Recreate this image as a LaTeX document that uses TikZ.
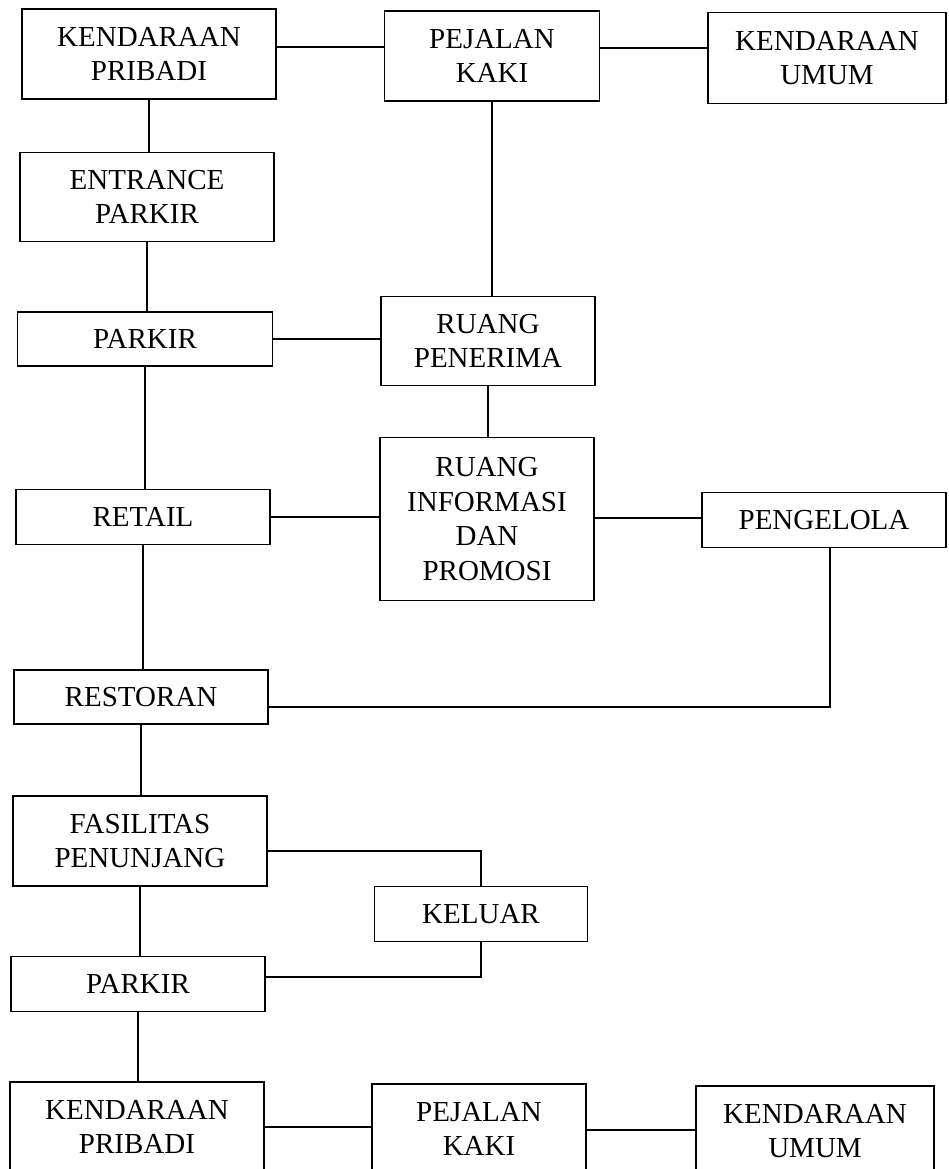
\documentclass[tikz,border=0pt]{standalone}
\usepackage{fontspec}
\setmainfont{Liberation Serif}
\begin{document}
\begin{tikzpicture}[x=1pt,y=-1pt,
  box/.style={draw,line width=1.6pt,align=center,inner sep=0pt,
    font=\fontsize{29}{34.5}\selectfont},
  conn/.style={line width=1.2pt}]
\useasboundingbox (0,0) rectangle (948,1169);
\clip (0,0) rectangle (948,1169);
\fill[white] (0,0) rectangle (948,1169);
\node[box,minimum width=254pt,minimum height=90pt] (kp1) at (149,54) {KENDARAAN\\PRIBADI};
\node[box,minimum width=215pt,minimum height=90pt] (pk1) at (492,56) {PEJALAN\\KAKI};
\node[box,minimum width=238pt,minimum height=91pt] (ku1) at (827,58) {KENDARAAN\\UMUM};
\node[box,minimum width=254pt,minimum height=89pt] (ep) at (147,197) {ENTRANCE\\PARKIR};
\node[box,minimum width=255pt,minimum height=54pt] (park1) at (145,339) {PARKIR};
\node[box,minimum width=214pt,minimum height=89pt] (rp) at (488,341) {RUANG\\PENERIMA};
\node[box,minimum width=214pt,minimum height=163pt] (rip) at (487,519) {RUANG\\INFORMASI\\DAN\\PROMOSI};
\node[box,minimum width=254pt,minimum height=55pt] (retail) at (143,517) {RETAIL};
\node[box,minimum width=244pt,minimum height=55pt] (peng) at (824,520) {PENGELOLA};
\node[box,minimum width=254pt,minimum height=54pt] (rest) at (141,697) {RESTORAN};
\node[box,minimum width=254pt,minimum height=90pt] (fp) at (140,841) {FASILITAS\\PENUNJANG};
\node[box,minimum width=213pt,minimum height=55pt] (kel) at (481,914) {KELUAR};
\node[box,minimum width=254pt,minimum height=55pt] (park2) at (138,984) {PARKIR};
\node[box,minimum width=254pt,minimum height=90pt] (kp2) at (137,1127) {KENDARAAN\\PRIBADI};
\node[box,minimum width=214pt,minimum height=90pt] (pk2) at (479,1129) {PEJALAN\\KAKI};
\node[box,minimum width=238pt,minimum height=90pt] (ku2) at (815,1131) {KENDARAAN\\UMUM};

\draw[conn] ([yshift=7pt]kp1.east) -- ([yshift=7pt]kp1.east -| pk1.west);
\draw[conn] ([yshift=8pt]pk1.east) -- ([yshift=8pt]pk1.east -| ku1.west);
\draw[conn] (kp1.south) -- (kp1.south |- ep.north);
\draw[conn] (pk1.south) -- (pk1.south |- rp.north);
\draw[conn] (ep.south) -- (ep.south |- park1.north);
\draw[conn] (park1.east) -- (park1.east -| rp.west);
\draw[conn] (park1.south) -- (park1.south |- retail.north);
\draw[conn] (rp.south) -- (rp.south |- rip.north);
\draw[conn] (retail.east) -- (retail.east -| rip.west);
\draw[conn] ([yshift=1pt]rip.east) -- ([yshift=1pt]rip.east -| peng.west);
\draw[conn] (retail.south) -- (retail.south |- rest.north);
\draw[conn] ([yshift=-10pt]rest.east) -| ([xshift=6pt]peng.south);
\draw[conn] (rest.south) -- (rest.south |- fp.north);
\draw[conn] ([yshift=-10pt]fp.east) -| (kel.north);
\draw[conn] (fp.south) -- (fp.south |- park2.north);
\draw[conn] ([yshift=7pt]park2.east) -| (kel.south);
\draw[conn] (park2.south) -- (park2.south |- kp2.north);
\draw[conn] (kp2.east) -- (kp2.east -| pk2.west);
\draw[conn] ([yshift=-1pt]pk2.east) -- ([yshift=-1pt]pk2.east -| ku2.west);
\end{tikzpicture}
\end{document}
